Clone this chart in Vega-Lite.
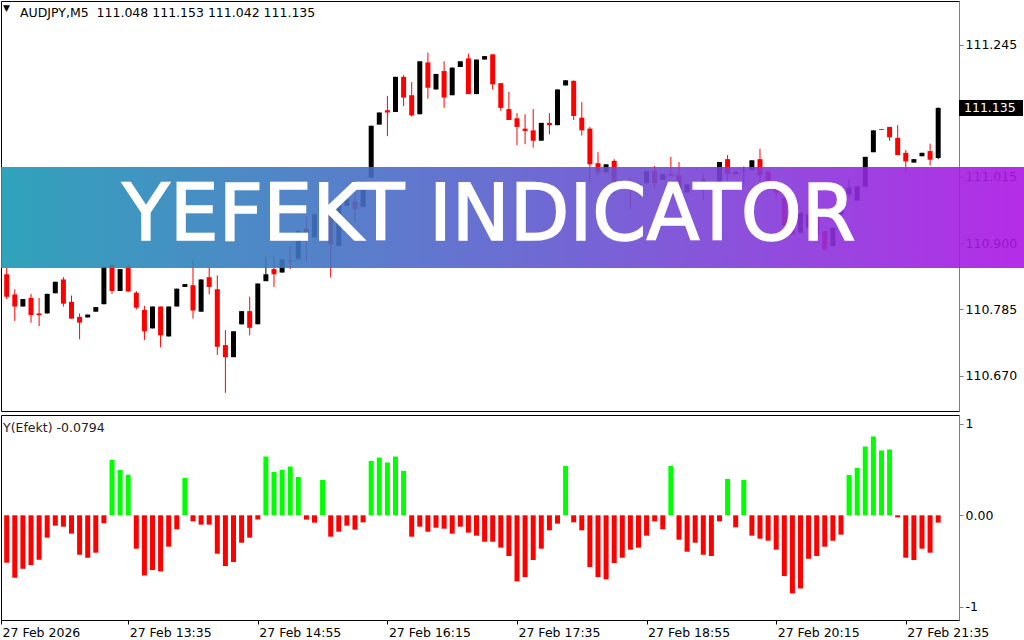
{
  "$schema": "https://vega.github.io/schema/vega-lite/v6.json",
  "padding": 0,
  "background": "white",
  "spacing": 2,
  "resolve": {"scale": {"x": "independent", "y": "independent"}},
  "config": {
    "view": {"stroke": "#000000", "strokeWidth": 1},
    "axis": {"labelFont": "DejaVu Sans", "labelFontSize": 12.5, "labelColor": "#000000", "domainColor": "#808080", "tickColor": "#808080", "grid": false, "zindex": 0},
    "text": {"font": "DejaVu Sans"}
  },
  "datasets": {
    "candles": [
      {"i":0,"o":110.846,"h":110.858,"l":110.803,"c":110.807},
      {"i":1,"o":110.811,"h":110.820,"l":110.765,"c":110.790},
      {"i":2,"o":110.790,"h":110.803,"l":110.790,"c":110.803},
      {"i":3,"o":110.805,"h":110.812,"l":110.762,"c":110.775},
      {"i":4,"o":110.778,"h":110.805,"l":110.756,"c":110.775},
      {"i":5,"o":110.778,"h":110.812,"l":110.778,"c":110.812},
      {"i":6,"o":110.813,"h":110.833,"l":110.813,"c":110.833},
      {"i":7,"o":110.837,"h":110.841,"l":110.790,"c":110.795},
      {"i":8,"o":110.798,"h":110.809,"l":110.769,"c":110.769},
      {"i":9,"o":110.772,"h":110.778,"l":110.733,"c":110.762},
      {"i":10,"o":110.771,"h":110.776,"l":110.771,"c":110.776},
      {"i":11,"o":110.781,"h":110.789,"l":110.781,"c":110.789},
      {"i":12,"o":110.794,"h":110.859,"l":110.794,"c":110.859},
      {"i":13,"o":110.862,"h":110.863,"l":110.812,"c":110.817},
      {"i":14,"o":110.817,"h":110.855,"l":110.817,"c":110.855},
      {"i":15,"o":110.859,"h":110.863,"l":110.816,"c":110.816},
      {"i":16,"o":110.814,"h":110.817,"l":110.785,"c":110.788},
      {"i":17,"o":110.784,"h":110.791,"l":110.732,"c":110.747},
      {"i":18,"o":110.752,"h":110.790,"l":110.752,"c":110.790},
      {"i":19,"o":110.790,"h":110.790,"l":110.719,"c":110.740},
      {"i":20,"o":110.738,"h":110.790,"l":110.738,"c":110.790},
      {"i":21,"o":110.790,"h":110.821,"l":110.790,"c":110.821},
      {"i":22,"o":110.824,"h":110.829,"l":110.824,"c":110.829},
      {"i":23,"o":110.827,"h":110.872,"l":110.769,"c":110.783},
      {"i":24,"o":110.781,"h":110.837,"l":110.781,"c":110.837},
      {"i":25,"o":110.841,"h":110.858,"l":110.811,"c":110.824},
      {"i":26,"o":110.820,"h":110.844,"l":110.706,"c":110.720},
      {"i":27,"o":110.723,"h":110.749,"l":110.640,"c":110.702},
      {"i":28,"o":110.702,"h":110.747,"l":110.702,"c":110.747},
      {"i":29,"o":110.759,"h":110.782,"l":110.759,"c":110.782},
      {"i":30,"o":110.782,"h":110.807,"l":110.740,"c":110.753},
      {"i":31,"o":110.759,"h":110.830,"l":110.759,"c":110.830},
      {"i":32,"o":110.834,"h":110.876,"l":110.834,"c":110.846},
      {"i":33,"o":110.855,"h":110.877,"l":110.824,"c":110.846},
      {"i":34,"o":110.849,"h":110.872,"l":110.849,"c":110.872},
      {"i":35,"o":110.870,"h":110.895,"l":110.855,"c":110.868},
      {"i":36,"o":110.872,"h":110.921,"l":110.872,"c":110.921},
      {"i":37,"o":110.925,"h":110.947,"l":110.869,"c":110.918},
      {"i":38,"o":110.910,"h":110.950,"l":110.910,"c":110.950},
      {"i":39,"o":110.947,"h":110.967,"l":110.947,"c":110.967},
      {"i":40,"o":110.967,"h":110.973,"l":110.840,"c":110.898},
      {"i":41,"o":110.895,"h":110.973,"l":110.895,"c":110.973},
      {"i":42,"o":110.965,"h":110.976,"l":110.965,"c":110.976},
      {"i":43,"o":110.973,"h":111.002,"l":110.936,"c":110.959},
      {"i":44,"o":110.963,"h":111.008,"l":110.963,"c":111.008},
      {"i":45,"o":111.014,"h":111.104,"l":111.014,"c":111.104},
      {"i":46,"o":111.106,"h":111.127,"l":111.106,"c":111.127},
      {"i":47,"o":111.131,"h":111.156,"l":111.086,"c":111.127},
      {"i":48,"o":111.128,"h":111.189,"l":111.128,"c":111.189},
      {"i":49,"o":111.189,"h":111.192,"l":111.138,"c":111.153},
      {"i":50,"o":111.157,"h":111.180,"l":111.120,"c":111.122},
      {"i":51,"o":111.124,"h":111.216,"l":111.124,"c":111.216},
      {"i":52,"o":111.214,"h":111.231,"l":111.151,"c":111.170},
      {"i":53,"o":111.167,"h":111.194,"l":111.167,"c":111.194},
      {"i":54,"o":111.199,"h":111.216,"l":111.135,"c":111.153},
      {"i":55,"o":111.157,"h":111.205,"l":111.157,"c":111.205},
      {"i":56,"o":111.206,"h":111.216,"l":111.206,"c":111.216},
      {"i":57,"o":111.221,"h":111.229,"l":111.159,"c":111.159},
      {"i":58,"o":111.159,"h":111.219,"l":111.159,"c":111.219},
      {"i":59,"o":111.219,"h":111.225,"l":111.219,"c":111.225},
      {"i":60,"o":111.228,"h":111.228,"l":111.167,"c":111.176},
      {"i":61,"o":111.178,"h":111.178,"l":111.130,"c":111.135},
      {"i":62,"o":111.133,"h":111.163,"l":111.114,"c":111.114},
      {"i":63,"o":111.117,"h":111.126,"l":111.070,"c":111.102},
      {"i":64,"o":111.099,"h":111.124,"l":111.072,"c":111.095},
      {"i":65,"o":111.096,"h":111.133,"l":111.066,"c":111.078},
      {"i":66,"o":111.078,"h":111.109,"l":111.078,"c":111.109},
      {"i":67,"o":111.109,"h":111.126,"l":111.089,"c":111.105},
      {"i":68,"o":111.105,"h":111.167,"l":111.105,"c":111.167},
      {"i":69,"o":111.174,"h":111.183,"l":111.174,"c":111.183},
      {"i":70,"o":111.182,"h":111.183,"l":111.114,"c":111.121},
      {"i":71,"o":111.118,"h":111.145,"l":111.087,"c":111.096},
      {"i":72,"o":111.099,"h":111.102,"l":111.005,"c":111.037},
      {"i":73,"o":111.039,"h":111.058,"l":111.017,"c":111.023},
      {"i":74,"o":111.023,"h":111.037,"l":111.023,"c":111.037},
      {"i":75,"o":111.043,"h":111.046,"l":110.985,"c":110.994},
      {"i":76,"o":110.998,"h":111.007,"l":110.998,"c":111.007},
      {"i":77,"o":111.006,"h":111.014,"l":110.959,"c":110.998},
      {"i":78,"o":110.998,"h":111.003,"l":110.998,"c":111.003},
      {"i":79,"o":111.004,"h":111.025,"l":111.004,"c":111.025},
      {"i":80,"o":111.025,"h":111.034,"l":110.996,"c":111.004},
      {"i":81,"o":111.010,"h":111.020,"l":111.010,"c":111.020},
      {"i":82,"o":111.020,"h":111.050,"l":111.017,"c":111.017},
      {"i":83,"o":111.018,"h":111.041,"l":110.996,"c":110.996},
      {"i":84,"o":110.988,"h":111.002,"l":110.988,"c":111.002},
      {"i":85,"o":111.001,"h":111.002,"l":111.001,"c":111.002},
      {"i":86,"o":111.011,"h":111.021,"l":110.974,"c":110.996},
      {"i":87,"o":110.998,"h":110.998,"l":110.996,"c":110.996},
      {"i":88,"o":111.002,"h":111.041,"l":111.002,"c":111.041},
      {"i":89,"o":111.046,"h":111.053,"l":111.008,"c":111.020},
      {"i":90,"o":111.020,"h":111.024,"l":111.020,"c":111.024},
      {"i":91,"o":111.025,"h":111.033,"l":111.005,"c":111.026},
      {"i":92,"o":111.027,"h":111.044,"l":111.027,"c":111.044},
      {"i":93,"o":111.046,"h":111.064,"l":111.008,"c":111.018},
      {"i":94,"o":111.025,"h":111.025,"l":110.998,"c":110.998},
      {"i":95,"o":110.996,"h":111.002,"l":110.976,"c":110.988},
      {"i":96,"o":110.979,"h":110.979,"l":110.930,"c":110.930},
      {"i":97,"o":110.939,"h":110.939,"l":110.915,"c":110.915},
      {"i":98,"o":110.918,"h":110.953,"l":110.918,"c":110.953},
      {"i":99,"o":110.927,"h":110.950,"l":110.927,"c":110.950},
      {"i":100,"o":110.947,"h":110.947,"l":110.915,"c":110.915},
      {"i":101,"o":110.921,"h":110.921,"l":110.889,"c":110.889},
      {"i":102,"o":110.895,"h":110.927,"l":110.895,"c":110.927},
      {"i":103,"o":110.950,"h":110.990,"l":110.950,"c":110.979},
      {"i":104,"o":110.985,"h":111.011,"l":110.979,"c":110.996},
      {"i":105,"o":110.974,"h":110.999,"l":110.974,"c":110.999},
      {"i":106,"o":110.998,"h":111.050,"l":110.998,"c":111.050},
      {"i":107,"o":111.058,"h":111.096,"l":111.058,"c":111.096},
      {"i":108,"o":111.097,"h":111.098,"l":111.097,"c":111.098},
      {"i":109,"o":111.102,"h":111.102,"l":111.078,"c":111.084},
      {"i":110,"o":111.083,"h":111.105,"l":111.053,"c":111.053},
      {"i":111,"o":111.057,"h":111.062,"l":111.023,"c":111.042},
      {"i":112,"o":111.040,"h":111.046,"l":111.040,"c":111.046},
      {"i":113,"o":111.051,"h":111.057,"l":111.051,"c":111.057},
      {"i":114,"o":111.060,"h":111.073,"l":111.035,"c":111.045},
      {"i":115,"o":111.048,"h":111.136,"l":111.046,"c":111.135}
    ],
    "ind": [
      {"i":0,"v":-0.517},{"i":1,"v":-0.681},{"i":2,"v":-0.583},{"i":3,"v":-0.543},{"i":4,"v":-0.485},
      {"i":5,"v":-0.244},{"i":6,"v":-0.113},{"i":7,"v":-0.124},{"i":8,"v":-0.200},{"i":9,"v":-0.430},
      {"i":10,"v":-0.463},{"i":11,"v":-0.408},{"i":12,"v":-0.087},{"i":13,"v":0.605},{"i":14,"v":0.495},
      {"i":15,"v":0.441},{"i":16,"v":-0.364},{"i":17,"v":-0.656},{"i":18,"v":-0.597},{"i":19,"v":-0.612},
      {"i":20,"v":-0.342},{"i":21,"v":-0.153},{"i":22,"v":0.408},{"i":23,"v":-0.066},{"i":24,"v":-0.102},
      {"i":25,"v":-0.102},{"i":26,"v":-0.419},{"i":27,"v":-0.554},{"i":28,"v":-0.510},{"i":29,"v":-0.299},
      {"i":30,"v":-0.244},{"i":31,"v":-0.047},{"i":32,"v":0.641},{"i":33,"v":0.474},{"i":34,"v":0.495},
      {"i":35,"v":0.532},{"i":36,"v":0.419},{"i":37,"v":-0.047},{"i":38,"v":-0.080},{"i":39,"v":0.386},
      {"i":40,"v":-0.233},{"i":41,"v":-0.179},{"i":42,"v":-0.113},{"i":43,"v":-0.157},{"i":44,"v":-0.077},
      {"i":45,"v":0.594},{"i":46,"v":0.630},{"i":47,"v":0.576},{"i":48,"v":0.641},{"i":49,"v":0.485},
      {"i":50,"v":-0.233},{"i":51,"v":-0.124},{"i":52,"v":-0.179},{"i":53,"v":-0.135},{"i":54,"v":-0.146},
      {"i":55,"v":-0.200},{"i":56,"v":-0.124},{"i":57,"v":-0.189},{"i":58,"v":-0.222},{"i":59,"v":-0.288},
      {"i":60,"v":-0.288},{"i":61,"v":-0.353},{"i":62,"v":-0.444},{"i":63,"v":-0.721},{"i":64,"v":-0.674},
      {"i":65,"v":-0.488},{"i":66,"v":-0.364},{"i":67,"v":-0.164},{"i":68,"v":-0.091},{"i":69,"v":0.539},
      {"i":70,"v":-0.077},{"i":71,"v":-0.164},{"i":72,"v":-0.565},{"i":73,"v":-0.674},{"i":74,"v":-0.699},
      {"i":75,"v":-0.521},{"i":76,"v":-0.463},{"i":77,"v":-0.375},{"i":78,"v":-0.353},{"i":79,"v":-0.222},
      {"i":80,"v":-0.066},{"i":81,"v":-0.153},{"i":82,"v":0.539},{"i":83,"v":-0.266},{"i":84,"v":-0.397},
      {"i":85,"v":-0.299},{"i":86,"v":-0.430},{"i":87,"v":-0.444},{"i":88,"v":-0.066},{"i":89,"v":0.397},
      {"i":90,"v":-0.131},{"i":91,"v":0.386},{"i":92,"v":-0.222},{"i":93,"v":-0.255},{"i":94,"v":-0.277},
      {"i":95,"v":-0.375},{"i":96,"v":-0.663},{"i":97,"v":-0.852},{"i":98,"v":-0.798},{"i":99,"v":-0.474},
      {"i":100,"v":-0.444},{"i":101,"v":-0.342},{"i":102,"v":-0.277},{"i":103,"v":-0.211},{"i":104,"v":0.441},
      {"i":105,"v":0.517},{"i":106,"v":0.750},{"i":107,"v":0.860},{"i":108,"v":0.707},{"i":109,"v":0.718},
      {"i":110,"v":-0.022},{"i":111,"v":-0.463},{"i":112,"v":-0.488},{"i":113,"v":-0.364},{"i":114,"v":-0.408},
      {"i":115,"v":-0.0794}
    ]
  },
  "vconcat": [
    {
      "width": 958,
      "height": 410,
      "layer": [
        {
          "data": {"name": "candles"},
          "mark": {"type": "rule", "strokeWidth": 1},
          "encoding": {
            "x": {"field": "i", "type": "quantitative", "scale": {"domain": [-0.704, 117.57], "nice": false, "zero": false, "padding": 0}, "axis": null},
            "y": {"field": "l", "type": "quantitative", "title": null, "scale": {"domain": [110.6085, 111.3207], "nice": false, "zero": false, "padding": 0},
                  "axis": {"orient": "right", "values": [110.670, 110.785, 110.900, 111.015, 111.245], "format": ".3f", "tickSize": 4, "labelPadding": 2, "domainWidth": 1}},
            "y2": {"field": "h"},
            "color": {"condition": {"test": "datum.o > datum.c", "value": "#ff0000"}, "value": "#000000"}
          }
        },
        {
          "data": {"name": "candles"},
          "mark": {"type": "bar", "size": 5},
          "encoding": {
            "x": {"field": "i", "type": "quantitative"},
            "y": {"field": "o", "type": "quantitative"},
            "y2": {"field": "c"},
            "color": {"condition": {"test": "datum.o > datum.c", "value": "#ff0000"}, "value": "#000000"}
          }
        },
        {
          "data": {"values": [{"label": "banner"}]},
          "mark": {"type": "rect", "opacity": 0.9, "fill": {"gradient": "linear", "x1": 0, "y1": 0, "x2": 1, "y2": 0,
            "stops": [{"offset": 0, "color": "#1999b3"}, {"offset": 0.5, "color": "#5b5dcd"}, {"offset": 1, "color": "#ad15e5"}]}},
          "encoding": {
            "x": {"datum": -0.704, "type": "quantitative"},
            "x2": {"datum": 125.9},
            "y": {"datum": 111.0324, "type": "quantitative"},
            "y2": {"datum": 110.8569}
          }
        },
        {
          "data": {"values": [{"label": "YEFEKT INDICATOR"}]},
          "mark": {"type": "text", "font": "DejaVu Sans", "fontSize": 77.5, "color": "#ffffff", "stroke": "#ffffff", "strokeWidth": 1.6, "align": "center", "baseline": "alphabetic"},
          "encoding": {
            "x": {"datum": 59.54, "type": "quantitative"},
            "y": {"datum": 110.9060, "type": "quantitative"},
            "text": {"field": "label"}
          }
        },
        {
          "data": {"values": [{"label": "▼"}]},
          "mark": {"type": "text", "fontSize": 9, "color": "#000000", "align": "left", "baseline": "alphabetic", "dx": 2, "dy": 10},
          "encoding": {
            "x": {"datum": -0.704, "type": "quantitative"},
            "y": {"datum": 111.3207, "type": "quantitative"},
            "text": {"field": "label"}
          }
        },
        {
          "data": {"values": [{"label": "AUDJPY,M5\u00a0 111.048 111.153 111.042 111.135"}]},
          "mark": {"type": "text", "fontSize": 12.5, "color": "#000000", "align": "left", "baseline": "alphabetic", "dx": 19, "dy": 16},
          "encoding": {
            "x": {"datum": -0.704, "type": "quantitative"},
            "y": {"datum": 111.3207, "type": "quantitative"},
            "text": {"field": "label"}
          }
        },
        {
          "data": {"values": [{"price": 111.135}]},
          "mark": {"type": "rect", "fill": "#000000"},
          "encoding": {
            "x": {"datum": 117.57, "type": "quantitative"},
            "x2": {"datum": 125.47},
            "y": {"datum": 111.1489, "type": "quantitative"},
            "y2": {"datum": 111.1211}
          }
        },
        {
          "data": {"values": [{"price": 111.135}]},
          "mark": {"type": "text", "fontSize": 12.5, "color": "#ffffff", "align": "left", "baseline": "middle", "dx": 5},
          "encoding": {
            "x": {"datum": 117.57, "type": "quantitative"},
            "y": {"field": "price", "type": "quantitative"},
            "text": {"field": "price", "type": "quantitative", "format": ".3f"}
          }
        }
      ]
    },
    {
      "width": 958,
      "height": 205,
      "layer": [
        {
          "data": {"name": "ind"},
          "mark": {"type": "bar", "size": 5},
          "encoding": {
            "x": {"field": "i", "type": "quantitative", "title": null, "scale": {"domain": [-0.704, 117.57], "nice": false, "zero": false, "padding": 0},
                  "axis": {"orient": "bottom", "values": [-0.704, 15, 31, 47, 63, 79, 95, 111],
                           "labelExpr": "datum.value < 0 ? '27 Feb 2026' : datum.value == 15 ? '27 Feb 13:35' : datum.value == 31 ? '27 Feb 14:55' : datum.value == 47 ? '27 Feb 16:15' : datum.value == 63 ? '27 Feb 17:35' : datum.value == 79 ? '27 Feb 18:55' : datum.value == 95 ? '27 Feb 20:15' : '27 Feb 21:35'",
                           "labelAlign": "left", "labelBaseline": "top", "labelOffset": 1, "labelPadding": 2, "tickSize": 4, "labelFlush": false, "labelOverlap": false, "domainColor": "#000000", "tickColor": "#000000"}},
            "y": {"field": "v", "type": "quantitative", "title": null, "scale": {"domain": [-1.142, 1.094], "nice": false, "zero": false, "padding": 0},
                  "axis": {"orient": "right", "values": [-1, 0, 1], "labelExpr": "datum.value == 0 ? '0.00' : (datum.value > 0 ? '1' : '-1')", "tickSize": 4, "labelPadding": 2}},
            "y2": {"datum": 0},
            "color": {"condition": {"test": "datum.v > 0", "value": "#00ff00"}, "value": "#ff0000"}
          }
        },
        {
          "data": {"values": [{"label": "Y(Efekt) -0.0794"}]},
          "mark": {"type": "text", "fontSize": 12.5, "color": "#222222", "align": "left", "baseline": "alphabetic", "dx": 2, "dy": 17},
          "encoding": {
            "x": {"datum": -0.704, "type": "quantitative"},
            "y": {"datum": 1.094, "type": "quantitative"},
            "text": {"field": "label"}
          }
        }
      ]
    }
  ]
}
